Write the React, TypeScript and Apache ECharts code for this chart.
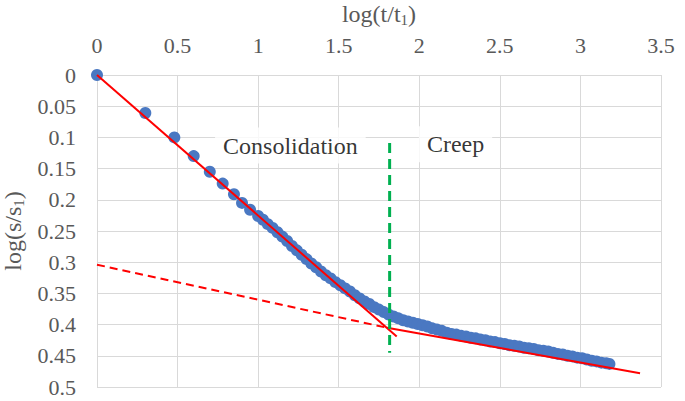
import React, { useEffect, useRef } from 'react';
import * as echarts from 'echarts';

const logT = [
  0, 0.30, 0.48, 0.60, 0.70, 0.78, 0.85, 0.90, 0.95,
  1.00, 1.03, 1.06, 1.09, 1.12, 1.15, 1.18, 1.21, 1.24, 1.27, 1.30,
  1.33, 1.36, 1.39, 1.42, 1.45, 1.48, 1.51, 1.54, 1.57, 1.60, 1.63,
  1.66, 1.69, 1.72, 1.75, 1.78, 1.81, 1.84, 1.87, 1.90, 1.93, 1.96, 1.99, 2.02,
  2.05, 2.08, 2.11, 2.14, 2.17, 2.20, 2.23, 2.26, 2.29, 2.32, 2.35, 2.38, 2.41, 2.44, 2.47, 2.50,
  2.53, 2.56, 2.59, 2.62, 2.65, 2.68, 2.71, 2.74, 2.77, 2.80,
  2.83, 2.86, 2.89, 2.92, 2.95, 2.98, 3.01, 3.04, 3.07, 3.10, 3.13, 3.16, 3.18,
];
const logS = [
  0, 0.061, 0.100, 0.130, 0.155, 0.174, 0.191, 0.205, 0.216,
  0.226, 0.232, 0.239, 0.245, 0.252, 0.259, 0.266, 0.274, 0.281, 0.288, 0.295,
  0.302, 0.308, 0.315, 0.321, 0.326, 0.332, 0.337, 0.342, 0.347, 0.353, 0.358,
  0.363, 0.367, 0.372, 0.376, 0.380, 0.384, 0.387, 0.390, 0.393, 0.395, 0.397, 0.399, 0.401,
  0.403, 0.406, 0.408, 0.410, 0.413, 0.415, 0.416, 0.418, 0.419, 0.421, 0.422, 0.424, 0.425, 0.427, 0.428, 0.430,
  0.431, 0.433, 0.434, 0.435, 0.437, 0.438, 0.439, 0.441, 0.442, 0.443,
  0.445, 0.447, 0.448, 0.450, 0.451, 0.453, 0.454, 0.456, 0.458, 0.459, 0.461, 0.462, 0.463,
];

// Fitted lines
const primaryFit = [[0, 0], [1.86, 0.419]];
const secondaryFit = [[1.80, 0.405], [3.37, 0.478]];
const secondaryExtension = [[0, 0.304], [1.80, 0.405]];
const boundaryLine = [[1.816, 0.109], [1.816, 0.445]];

// Phase labels
const phaseNames = ['Consolidation', 'Creep'];
const phaseX = [1.2, 2.225];
const phaseY = [0.113, 0.111];

const SERIF = "'Liberation Serif', serif";

export default function App() {
  const ref = useRef<HTMLDivElement>(null);
  useEffect(() => {
    if (!ref.current) return;
    const chart = echarts.init(ref.current, undefined, { renderer: 'svg' });
    const points = logT.map((x, i) => [x, logS[i]]);
    const labelData = phaseNames.map((n, i) => [phaseX[i], phaseY[i], n]);
    const nameRich = {
      a: { fontFamily: SERIF, fontSize: 24, color: '#595959', lineHeight: 28 },
      b: { fontFamily: SERIF, fontSize: 15, color: '#595959', lineHeight: 28, padding: [12, 0, 0, 0] },
    };
    chart.setOption({
      animation: false,
      backgroundColor: '#ffffff',
      grid: { left: 97, right: 24, top: 75, bottom: 14, outerBoundsMode: 'none', containLabel: false },
      xAxis: {
        type: 'value',
        position: 'top',
        min: 0,
        max: 3.5,
        interval: 0.5,
        name: '{a|log(t/t}{b|1}{a|)}',
        nameLocation: 'middle',
        nameGap: 47,
        nameTextStyle: { rich: nameRich },
        axisLine: { show: false },
        axisTick: { show: false },
        axisLabel: { color: '#595959', fontSize: 22, fontFamily: SERIF, margin: 19 },
        splitLine: { show: true, lineStyle: { color: '#d9d9d9', width: 1 } },
      },
      yAxis: {
        type: 'value',
        inverse: true,
        min: 0,
        max: 0.5,
        interval: 0.05,
        name: '{a|log(s/s}{b|1}{a|)}',
        nameLocation: 'middle',
        nameGap: 66,
        nameRotate: 90,
        nameTextStyle: { rich: nameRich },
        axisLine: { show: false },
        axisTick: { show: false },
        axisLabel: { color: '#595959', fontSize: 22, fontFamily: SERIF, margin: 21 },
        splitLine: { show: true, lineStyle: { color: '#d9d9d9', width: 1 } },
      },
      series: [
        {
          type: 'scatter',
          data: points,
          symbol: 'circle',
          symbolSize: 12,
          itemStyle: { color: '#4a78c2', opacity: 1 },
          z: 2,
        },
        {
          type: 'line',
          data: primaryFit,
          showSymbol: false,
          lineStyle: { color: '#ff0000', width: 2 },
          z: 3,
        },
        {
          type: 'line',
          data: secondaryFit,
          showSymbol: false,
          lineStyle: { color: '#ff0000', width: 2 },
          z: 3,
        },
        {
          type: 'line',
          data: secondaryExtension,
          showSymbol: false,
          lineStyle: { color: '#ff0000', width: 2, type: [8, 5] },
          z: 3,
        },
        {
          type: 'line',
          data: boundaryLine,
          showSymbol: false,
          lineStyle: { color: '#00b050', width: 3, type: [10, 6] },
          z: 3,
        },
        {
          type: 'scatter',
          data: labelData,
          symbol: 'circle',
          symbolSize: 1,
          itemStyle: { color: 'rgba(0,0,0,0)' },
          label: {
            show: true,
            position: 'inside',
            formatter: (p: any) => p.data[2],
            fontFamily: SERIF,
            fontSize: 24,
            color: '#000000',
            backgroundColor: '#ffffff',
            padding: [6, 8, 6, 8],
          },
          z: 4,
        },
      ],
    });
    return () => chart.dispose();
  }, []);
  return (
    <div
      ref={ref}
      style={{ position: 'absolute', left: 0, top: 0, width: 685, height: 401 }}
    />
  );
}
